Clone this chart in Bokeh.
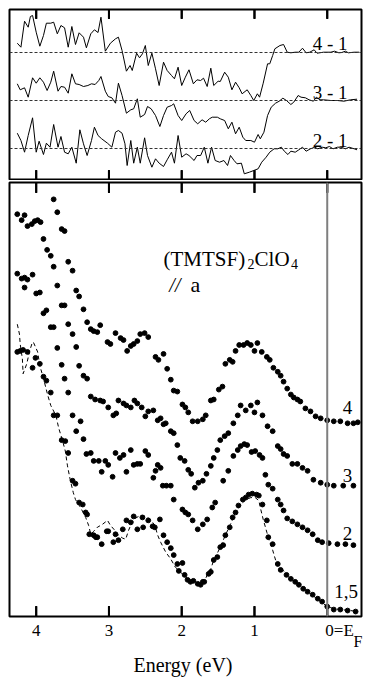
import math
from bokeh.plotting import figure
from bokeh.models import Range1d, LinearAxis, FixedTicker, Span, Label
from bokeh.layouts import column
from bokeh.embed import file_html
from bokeh.resources import INLINE

FONT = "Liberation Serif"

# ---------------- top panel: difference spectra ----------------
e_41 = [4.26,4.21,4.16,4.11,4.08,4.05,4.00,3.95,3.90,3.86,3.80,3.76,3.71,3.66,3.61,3.56,3.51,3.46,3.41,3.35,
        3.31,3.25,3.20,3.15,3.11,3.05,2.98,2.91,2.87,2.82,2.76,2.71,2.68,2.62,2.58,2.54,2.50,2.46,2.41,2.36,
        2.31,2.25,2.20,2.14,2.10,2.05,2.00,1.95,1.90,1.84,1.79,1.74,1.70,1.65,1.60,1.56,1.50,1.47,1.41,1.36,
        1.31,1.26,1.21,1.17,1.10,1.05,1.01,0.96,0.93,0.88,0.82,0.79,0.75,0.72,0.65,0.60,0.55,0.50,0.44,0.39,
        0.34,0.29,0.24,0.18,0.14,0.05,-0.05,-0.10,-0.16,-0.20,-0.25,-0.29,-0.37,-0.44]
d_41 = [9.3,5.3,31.3,25.3,36,37,20.3,6.3,17,29.3,29.3,30.3,18.7,27,24.7,5.3,26,8,19.7,15.3,
        4.7,18.7,22.7,20,35.3,1.3,9.3,13.7,15.3,2,-18.7,-13,-18,-0.7,-5.3,-1.3,7,-13,-0.7,-16.3,
        -33,-9.7,-18,-23,-26.3,-14.7,-33,-24.7,-17.3,-31.3,-27.3,-28,-25.7,-34,-15.7,-33,-28.7,-29,-19.7,-24.7,
        -37.3,-29.7,-35.3,-41.3,-37.3,-43,-48,-41.3,-44.7,-30.7,-11.3,-11.3,-3,3.7,7,8,0.3,-0.3,0.3,0.3,
        4.3,-0.3,0.3,2.7,-0.7,0.3,0.3,1.3,-0.3,0,1.3,-0.3,0.3,0.3]

e_31 = [4.26,4.22,4.16,4.11,4.05,4.00,3.95,3.90,3.85,3.80,3.76,3.70,3.66,3.61,3.56,3.51,3.46,3.41,3.35,3.29,
        3.24,3.19,3.14,3.11,3.05,3.01,2.96,2.91,2.87,2.82,2.76,2.70,2.66,2.61,2.57,2.51,2.47,2.42,2.36,2.30,
        2.25,2.20,2.14,2.11,2.05,2.00,1.94,1.89,1.83,1.78,1.72,1.67,1.62,1.58,1.51,1.47,1.41,1.36,1.31,1.26,
        1.21,1.16,1.12,1.05,1.00,0.95,0.92,0.87,0.82,0.77,0.71,0.66,0.61,0.56,0.50,0.46,0.40,0.36,0.30,0.25,
        0.19,0.15,0.10,0.05,-0.05,-0.14,-0.23,-0.32,-0.41]
d_31 = [16.7,10.7,12.7,3.3,22.7,17.3,22.7,18.3,10,18.3,29.3,9.3,14,13.3,7.3,26.7,16.7,16,14,15,
        16.7,16,20,24,9.3,4,2.7,-2.7,17.3,5,-12.7,-9.3,-8.3,1.7,-16.7,-14,-6,-8.3,-15,-26,
        -15,-6.7,-5,-3.3,-15,-20,-13.3,-10,-20,-23.3,-19.3,-21.7,-18.3,-16.7,-16.7,-18.3,-20,-28.3,-21.7,-33.3,
        -26.7,-36.7,-40,-40,-41.7,-34,-38.3,-31.7,-15,-6.7,-2.7,-0.7,2.3,0,-4,-1.7,5,3.3,2.7,0.7,
        -0.7,3.3,0.7,0.7,0,0,-0.7,0.7,1.3]

e_21 = [4.26,4.21,4.16,4.11,4.05,4.00,3.96,3.90,3.86,3.81,3.76,3.70,3.66,3.61,3.56,3.51,3.45,3.40,3.35,3.30,
        3.24,3.20,3.15,3.10,3.02,2.96,2.91,2.87,2.82,2.78,2.75,2.70,2.66,2.61,2.57,2.51,2.47,2.41,2.36,2.31,
        2.25,2.20,2.14,2.10,2.05,2.00,1.94,1.90,1.83,1.79,1.74,1.69,1.64,1.59,1.54,1.48,1.42,1.37,1.33,1.28,
        1.24,1.18,1.14,1.07,1.01,0.95,0.90,0.84,0.79,0.73,0.68,0.63,0.59,0.54,0.50,0.44,0.39,0.34,0.29,0.23,
        0.17,0.13,0.07,0.02,-0.03,-0.08,-0.14,-0.19,-0.25,-0.30,-0.37,-0.41]
d_21 = [15.3,8,-3.7,13,30.7,-3.7,7.3,-6,5.3,1.3,24,1.3,12,-3.7,-5.3,1.3,-14.7,18.7,4.7,-7,
        8,21.3,13,9.7,5.3,1.3,16.3,18,15.3,4.7,-17,8,-14.7,1.3,-14.7,10.7,-7,-18.7,-10.3,-14.7,
        -18,-11.3,-3.7,-14.7,13,-8.7,-5.3,-7,-12,-7,-7,1.3,-14.7,1.3,-12,-13.7,-12,-17,-7,-12,
        -15.3,-14.7,-25.3,-23.7,-22,-20.3,-13.7,-8.7,-3.7,-0.3,-0.3,1.3,-2.7,-6,-2.7,-3.7,-1.3,1.3,-2.7,-0.3,
        1.3,-0.3,1.3,0.7,2,-0.3,1.3,1.3,-0.3,1.3,-0.3,-1.3]

diff_labels = ["4 - 1", "3 - 1", "2 - 1"]

# ---------------- bottom panel: spectra ----------------
e_4 = [4.26,4.16,4.06,3.98,3.76,3.71,3.65,3.61,3.56,3.50,3.45,3.41,3.35,3.30,3.25,3.21,3.16,3.12,3.02,2.98,
       2.91,2.84,2.80,2.75,2.70,2.66,2.61,2.57,2.51,2.46,2.36,2.32,2.25,2.20,2.15,2.11,2.06,1.99,1.95,1.91,
       1.85,1.78,1.71,1.67,1.60,1.56,1.49,1.44,1.40,1.34,1.30,1.26,1.21,1.15,1.10,1.05,1.00,0.96,0.90,0.83,
       0.79,0.74,0.68,0.64,0.60,0.55,0.50,0.46,0.41,0.37,0.30,0.23,0.16,0.09,0.00,-0.09,-0.18,-0.28,-0.36,-0.42]
i_4 = [406,405,396,400,421,408,391,389,358,349,329,323,310,297,290,288,287,294,277,275,
       286,281,279,268,273,275,278,285,286,282,262,259,265,250,239,228,227,214,211,206,
       197,197,199,203,218,219,229,232,255,259,257,268,274,274,276,274,268,276,267,262,
       259,251,247,243,237,230,224,221,219,217,210,207,202,200,198,197,197,195,195,196]

e_3 = [4.20,4.12,4.02,3.94,3.90,3.85,3.80,3.76,3.71,3.65,3.61,3.56,3.50,3.45,3.41,3.35,3.30,3.25,3.19,3.12,
       3.08,3.01,2.94,2.90,2.87,2.80,2.76,2.70,2.65,2.61,2.55,2.50,2.46,2.39,2.33,2.29,2.25,2.22,2.15,2.11,
       2.06,2.02,1.96,1.91,1.87,1.82,1.77,1.71,1.66,1.60,1.56,1.51,1.47,1.41,1.36,1.29,1.23,1.19,1.12,1.05,
       1.00,0.96,0.89,0.82,0.75,0.68,0.64,0.60,0.55,0.48,0.41,0.34,0.27,0.19,0.09,0.00,-0.09,-0.22,-0.36]
i_3 = [400,394,399,398,381,370,364,353,334,314,314,295,285,272,253,243,240,222,219,218,
       217,211,203,205,218,215,213,211,218,215,211,202,207,208,198,200,194,195,187,185,
       173,160,157,148,144,130,135,137,144,152,160,168,178,182,185,195,203,213,208,213,
       206,216,203,192,187,172,169,164,162,154,154,150,147,138,135,133,132,132,132]

e_2 = [4.26,4.20,4.16,4.12,4.05,4.16,4.00,3.95,3.90,3.86,3.80,3.76,3.71,3.65,3.61,3.56,3.50,3.45,3.39,3.35,
       3.31,3.25,3.21,3.14,3.10,3.05,3.01,2.95,2.91,2.85,2.80,2.76,2.70,2.66,2.61,2.57,2.50,2.46,2.39,2.36,
       2.33,2.29,2.26,2.21,2.15,2.11,1.99,1.95,1.91,1.85,1.78,1.71,1.65,1.58,1.54,1.43,1.36,1.29,1.23,1.19,
       1.14,1.10,1.04,0.99,0.93,0.89,0.85,0.81,0.75,0.68,0.64,0.60,0.55,0.48,0.41,0.34,0.27,0.20,0.13,0.07,
       -0.02,-0.14,-0.25,-0.36]
i_2 = [346,341,342,340,345,332,326,327,306,309,292,292,271,254,240,226,203,187,197,179,
       164,165,157,157,146,157,153,141,165,160,163,146,168,153,154,154,167,163,140,147,
       153,150,132,132,132,118,108,105,103,97,88,93,98,110,115,137,147,162,168,172,
       174,173,166,167,163,160,143,133,129,118,113,107,99,96,93,90,87,83,77,75,
       74,73,73,72]

e_15 = [4.26,4.22,4.18,4.12,4.05,4.01,3.95,3.90,3.86,3.80,3.76,3.71,3.65,3.60,3.56,3.50,3.46,3.41,3.36,3.32,
        3.30,3.27,3.21,3.18,3.16,3.10,3.03,3.01,2.94,2.91,2.87,2.81,2.76,2.70,2.66,2.61,2.54,2.53,2.46,2.40,
        2.37,2.30,2.25,2.20,2.15,2.11,2.06,1.99,2.04,1.96,1.92,1.88,1.84,1.78,1.74,1.71,1.69,1.63,1.60,1.56,
        1.51,1.47,1.43,1.40,1.34,1.30,1.26,1.22,1.16,1.12,1.08,1.03,0.97,0.94,0.89,0.83,0.81,0.75,0.68,0.64,
        0.56,0.50,0.44,0.39,0.33,0.27,0.20,0.13,0.07,0.00,-0.09,-0.18,-0.28,-0.39]
i_15 = [267,268,269,267,251,261,255,242,238,226,203,203,178,177,165,137,134,115,113,105,
        103,83,82,80,80,73,86,86,75,83,77,88,97,95,101,88,100,90,97,91,
        90,98,82,75,69,62,53,54,46,42,37,35,36,33,32,35,35,43,45,57,
        60,70,72,82,90,100,105,112,118,120,123,124,123,122,113,97,80,73,53,47,
        42,38,35,32,28,25,22,18,15,10,7,7,6,5]

e_1 = [4.26,4.23,4.22,4.19,4.18,4.13,4.09,4.06,4.04,4.01,3.98,3.95,3.91,3.84,3.80,3.73,3.69,3.64,3.60,3.57,
       3.53,3.49,3.46,3.39,3.32,3.28,3.25,3.21,3.16,3.09,3.02,2.98,2.92,2.87,2.81,2.77,2.73,2.69,2.64,2.57,
       2.50,2.43,2.37,2.33,2.29,2.22,2.15,2.09,2.02,1.95,1.88,1.81,1.74,1.69,1.65,1.60,1.56,1.51,1.47,1.40,
       1.33,1.26,1.19,1.12,1.05,0.99,0.94,0.92,0.88,0.83,0.79,0.75,0.71,0.67,0.61,0.56,0.50,0.44,0.37,0.30,
       0.23,0.16,0.09,0.00,-0.09,-0.18,-0.32,-0.42]
i_1 = [295,285,275,260,245,255,268,275,277,272,267,253,243,223,213,203,190,178,167,152,
       137,125,118,110,100,92,83,86,90,93,97,92,87,82,79,78,87,94,99,102,
       101,98,92,82,75,65,58,50,45,40,36,33,32,35,42,48,57,64,70,82,
       93,105,113,118,120,120,117,110,98,85,75,67,57,52,47,42,38,35,30,27,
       23,19,15,10,8,7,6,5]

curve_labels = ["4", "3", "2", "1,5"]
x_ticks = [4.0, 3.0, 2.0, 1.0, 0.0]
# tick label positions: the "0=E" label sits to the right of its tick, as in the original
label_ticks = [4, 3, 2, 1, -0.17]
label_text = {-0.17: "0=E"}
fermi_sub = "F"
x_title = "Energy  (eV)"

X_RANGE = (4.367, -0.471)
TOP_Y = (0, 170)
BOT_Y = (0, 438)


def style(p):
    p.outline_line_color = "black"
    p.outline_line_width = 2
    p.outline_line_alpha = 1
    p.background_fill_color = "white"
    p.border_fill_color = "white"
    p.xgrid.visible = False
    p.ygrid.visible = False


def inward_ticks(p, yr, length):
    # tick marks on the lower and upper frame edge, pointing into the frame
    n = len(x_ticks)
    lo = yr[0] + 0.5
    hi = yr[1] - 0.5
    p.segment(x0=list(x_ticks), x1=list(x_ticks), y0=[lo] * n, y1=[lo + length] * n,
              line_color="black", line_width=2)
    p.segment(x0=list(x_ticks), x1=list(x_ticks), y0=[hi] * n, y1=[hi - length] * n,
              line_color="black", line_width=2)
    p.scatter(x=list(x_ticks) * 2, y=[yr[0]] * n + [yr[1]] * n, marker="dash",
              angle=math.pi / 2, size=2 * length, line_color="black", line_width=2)


# ---------------- top figure ----------------
p_top = figure(width=365, height=180, x_range=Range1d(*X_RANGE), y_range=Range1d(*TOP_Y),
               output_backend="svg", toolbar_location=None,
               x_axis_location=None, y_axis_location=None,
               min_border_left=9, min_border_right=4, min_border_top=9, min_border_bottom=1)
style(p_top)
inward_ticks(p_top, TOP_Y, 9)

offsets = [127, 79, 31]
label_y = [136, 87, 39]
for (e, d), off, lab, ly in zip([(e_41, d_41), (e_31, d_31), (e_21, d_21)], offsets, diff_labels, label_y):
    p_top.add_layout(Span(location=off, dimension="width", line_color="#333333",
                          line_width=1, line_dash="3 2"))
    p_top.line(e, [off + v for v in d], line_color="black", line_width=1)
    p_top.add_layout(Label(x=-0.279, y=ly, text=lab, text_align="right", text_baseline="alphabetic",
                           text_font=FONT, text_font_size="19px", text_color="black"))

# ---------------- bottom figure ----------------
p_bot = figure(width=365, height=498, x_range=Range1d(*X_RANGE), y_range=Range1d(*BOT_Y),
               output_backend="svg", toolbar_location=None,
               x_axis_location=None, y_axis_location=None,
               min_border_left=9, min_border_right=4, min_border_top=2, min_border_bottom=58)
style(p_bot)
inward_ticks(p_bot, BOT_Y, 10)

xa = LinearAxis(ticker=FixedTicker(ticks=label_ticks))
xa.axis_line_color = None
xa.major_tick_in = 0
xa.major_tick_out = 0
xa.major_tick_line_color = None
xa.minor_tick_line_color = None
xa.major_label_overrides = label_text
xa.major_label_text_font = FONT
xa.major_label_text_font_size = "17px"
xa.major_label_text_color = "black"
xa.major_label_standoff = 4
p_bot.add_layout(xa, "below")

# second axis below: subscript F of E_F and the axis title
xb = LinearAxis(ticker=FixedTicker(ticks=[-0.423]))
xb.axis_line_color = None
xb.major_tick_in = 0
xb.major_tick_out = 0
xb.major_tick_line_color = None
xb.minor_tick_line_color = None
xb.major_label_overrides = {-0.423: fermi_sub}
xb.major_label_text_font = FONT
xb.major_label_text_font_size = "16px"
xb.major_label_text_color = "black"
xb.major_label_standoff = -10
xb.axis_label = x_title
xb.axis_label_text_font = FONT
xb.axis_label_text_font_size = "20px"
xb.axis_label_text_font_style = "normal"
xb.axis_label_text_color = "black"
xb.axis_label_standoff = 1
p_bot.add_layout(xb, "below")

p_bot.add_layout(Span(location=0, dimension="height", line_color="#7f7f7f", line_width=2))

p_bot.line(e_1, i_1, line_color="black", line_width=1, line_dash="4 3")
for e, i in [(e_4, i_4), (e_3, i_3), (e_2, i_2), (e_15, i_15)]:
    p_bot.scatter(e, i, size=4.8, color="black")

for lab, ly, lx in zip(curve_labels, [211, 142, 84, 25], [-0.279, -0.279, -0.279, -0.258]):
    p_bot.add_layout(Label(x=lx, y=ly, text=lab, text_align="center", text_baseline="alphabetic",
                           text_font=FONT, text_font_size="19px", text_color="black"))

# compound title
for txt, x, y, size in [("(TMTSF)", 2.250, 361, "21px"), ("2", 1.096, 356, "14px"),
                        ("ClO", 0.999, 361, "21px"), ("4", 0.498, 356, "14px"),
                        ("a", 1.879, 335, "22px")]:
    p_bot.add_layout(Label(x=x, y=y, text=txt, text_align="left", text_baseline="alphabetic",
                           text_font=FONT, text_font_size=size, text_color="black"))
p_bot.add_layout(Label(x=2.17, y=335, text="//", text_align="left", text_baseline="alphabetic",
                       text_font=FONT, text_font_size="20px", text_font_style="italic",
                       text_color="black"))

layout = column(p_top, p_bot)
open("out.html", "w").write(file_html(layout, INLINE))
